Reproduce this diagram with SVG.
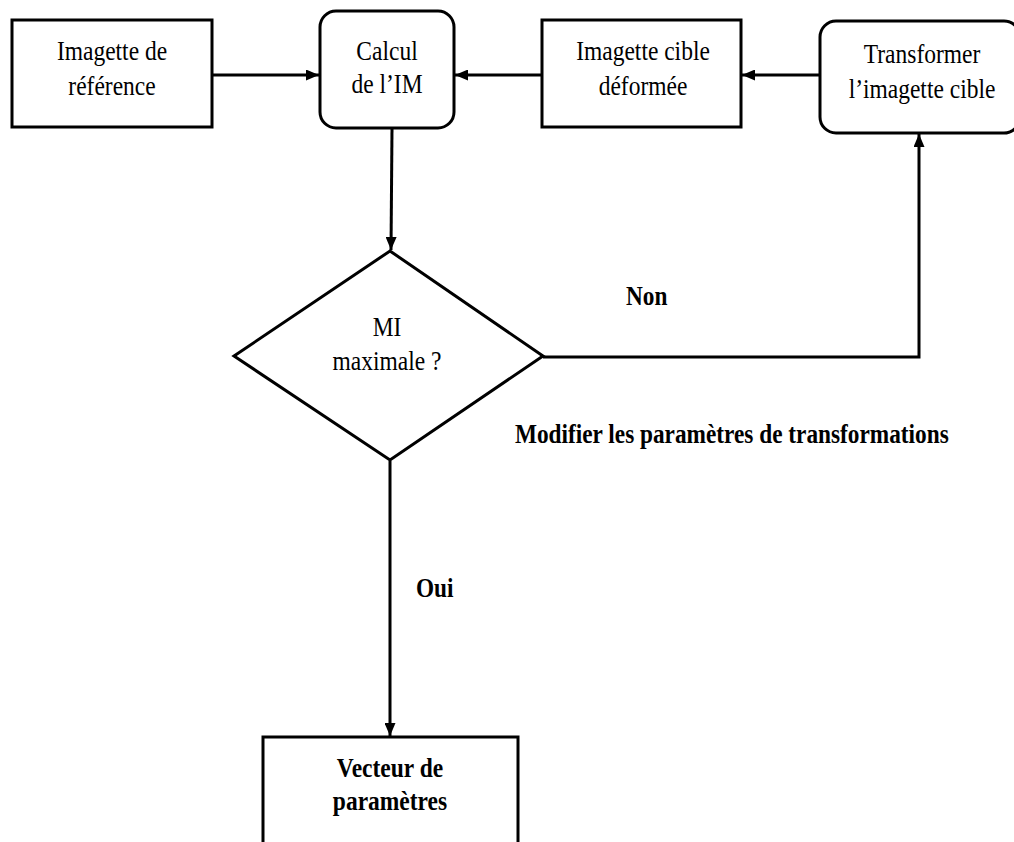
<svg xmlns="http://www.w3.org/2000/svg" width="1014" height="842" viewBox="0 0 1014 842">
<style>
.box{fill:#fff;stroke:#000;stroke-width:3}
.t{font-family:"Liberation Serif",serif;font-size:23.5px;fill:#000;text-anchor:middle}
.b{font-family:"Liberation Serif",serif;font-size:23.3px;font-weight:bold;fill:#000}
.c{fill:none;stroke:#000;stroke-width:3}
</style>
<defs>
<marker id="ah" viewBox="0 0 13 11" refX="13" refY="5.5" markerWidth="13" markerHeight="11" markerUnits="userSpaceOnUse" orient="auto">
<path d="M0,0 L13,5.5 L0,11 Z" fill="#000"/>
</marker>
</defs>
<rect width="1014" height="842" fill="#fff"/>
<g id="connectors">
<line class="c" x1="213" y1="75" x2="319" y2="75" marker-end="url(#ah)"/>
<line class="c" x1="542" y1="75" x2="455" y2="75" marker-end="url(#ah)"/>
<line class="c" x1="820" y1="75" x2="742" y2="75" marker-end="url(#ah)"/>
<line class="c" x1="392" y1="129" x2="391" y2="250" marker-end="url(#ah)"/>
<polyline class="c" points="543,357 919,357 919,134" marker-end="url(#ah)"/>
<line class="c" x1="390" y1="461" x2="390" y2="736" marker-end="url(#ah)"/>
</g>
<g id="n1">
<rect class="box" x="12" y="20" width="200" height="107"/>
<text class="t" transform="translate(112,60) scale(1,1.18)">Imagette de</text>
<text class="t" transform="translate(112,95) scale(1,1.18)">référence</text>
</g>
<g id="n2">
<rect class="box" x="320" y="11" width="134" height="117" rx="16"/>
<text class="t" transform="translate(387,60) scale(1,1.15)">Calcul</text>
<text class="t" transform="translate(387,93) scale(1,1.15)">de l’IM</text>
</g>
<g id="n3">
<rect class="box" x="542" y="20" width="199" height="107"/>
<text class="t" transform="translate(643,60) scale(1,1.18)">Imagette cible</text>
<text class="t" transform="translate(643,95) scale(1,1.18)">déformée</text>
</g>
<g id="n4">
<rect class="box" x="820" y="21" width="200" height="112" rx="16"/>
<text class="t" transform="translate(922,63) scale(1,1.18)">Transformer</text>
<text class="t" transform="translate(922,98) scale(1,1.18)">l’imagette cible</text>
</g>
<g id="n5">
<polygon class="box" points="390,251 543,356 390,460 234,356"/>
<text class="t" transform="translate(387,336) scale(1,1.18)">MI</text>
<text class="t" transform="translate(387,370) scale(1,1.18)">maximale ?</text>
</g>
<g id="n6">
<rect class="box" x="263" y="737" width="255" height="120"/>
<text class="t" font-weight="bold" transform="translate(390,777) scale(1,1.18)">Vecteur de</text>
<text class="t" font-weight="bold" transform="translate(390,810) scale(1,1.18)">paramètres</text>
</g>
<g id="labels">
<text class="b" transform="translate(626,305) scale(1,1.18)">Non</text>
<text class="b" transform="translate(515,443) scale(1,1.18)">Modifier les paramètres de transformations</text>
<text class="b" transform="translate(416,597) scale(1,1.18)">Oui</text>
</g>
</svg>
